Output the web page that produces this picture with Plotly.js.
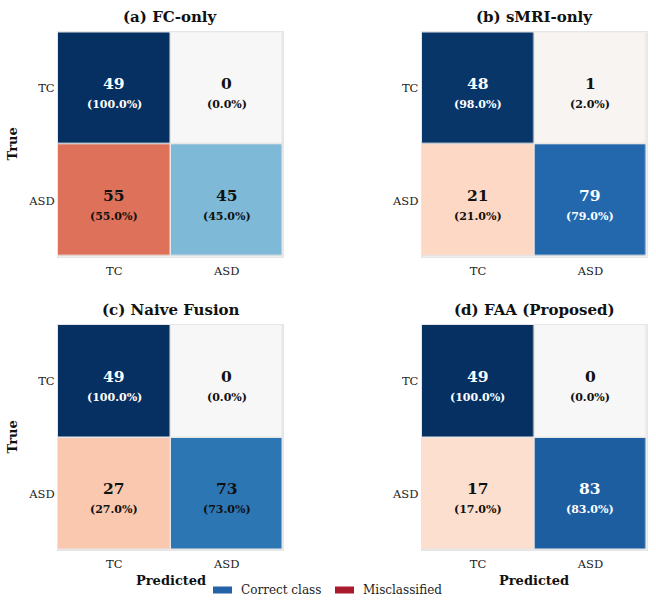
<!DOCTYPE html>
<html>
<head>
<meta charset="utf-8">
<script src="https://cdn.plot.ly/plotly-3.0.1.min.js"></script>
<style>
  html, body { margin: 0; padding: 0; background: #ffffff; }
  #chart { width: 656px; height: 602px; }
</style>
</head>
<body>
<div id="chart"></div>
<script>
// Class labels (rows = true class, columns = predicted class)
const classes = ['TC', 'ASD'];

// Panel titles
const panelTitles = ['(a) FC-only', '(b) sMRI-only', '(c) Naive Fusion', '(d) FAA (Proposed)'];

// Confusion-matrix counts for each model
const countsFC     = [[49, 0], [55, 45]];
const countsSMRI   = [[48, 1], [21, 79]];
const countsNaive  = [[49, 0], [27, 73]];
const countsFAA    = [[49, 0], [17, 83]];

// Legend entries
const legendLabels = ['Correct class', 'Misclassified'];
const legendColors = ['#2463a8', '#a81a2e'];

const allCounts = [countsFC, countsSMRI, countsNaive, countsFAA];

// Matplotlib-style RdBu diverging scale: correct cells map to blue, errors to red
const rdbu = [
  [0.0, '#67001f'], [0.1, '#b2182b'], [0.2, '#d6604d'], [0.3, '#f4a582'],
  [0.4, '#fddbc7'], [0.5, '#f7f7f7'], [0.6, '#d1e5f0'], [0.7, '#92c5de'],
  [0.8, '#4393c3'], [0.9, '#2166ac'], [1.0, '#053061']
];

// Panel placement in paper coordinates
const W = 656, H = 602;
const colX = [[58, 283], [421.7, 646.7]];
const rowY = [[32.3, 256.7], [325, 550]];
const px2x = p => p / W;
const px2y = p => 1 - p / H;

const traces = [];
const annotations = [];
const shapes = [];
const layout = {
  width: W, height: H,
  margin: { l: 0, r: 0, t: 0, b: 0 },
  paper_bgcolor: '#ffffff',
  plot_bgcolor: '#e6e6e6',
  font: { family: 'DejaVu Serif', color: '#222222' },
  showlegend: false
};

allCounts.forEach((counts, k) => {
  const r = Math.floor(k / 2), c = k % 2;
  const ax = k === 0 ? '' : String(k + 1);
  const xa = 'x' + ax, ya = 'y' + ax;

  // Row-normalised percentages and signed values for colouring
  const pct = counts.map(row => {
    const s = row.reduce((a, b) => a + b, 0);
    return row.map(v => 100 * v / s);
  });
  const signed = pct.map((row, i) => row.map((p, j) => (i === j ? p : -p)));

  traces.push({
    type: 'heatmap',
    x: classes, y: classes, z: signed,
    zmin: -100, zmax: 100,
    colorscale: rdbu, showscale: false,
    xgap: 1.5, ygap: 1.5,
    hoverinfo: 'skip',
    xaxis: xa, yaxis: ya
  });

  layout['xaxis' + ax] = {
    domain: [px2x(colX[c][0]), px2x(colX[c][1])],
    anchor: ya, type: 'category', range: [-0.5, 1.5],
    showgrid: false, zeroline: false,
    showline: true, mirror: true, linecolor: '#e6e6e6', linewidth: 1,
    ticks: '', ticklabelstandoff: 3,
    tickfont: { family: 'DejaVu Serif', size: 11.5, color: '#222222' },
    fixedrange: true
  };
  layout['yaxis' + ax] = {
    domain: [px2y(rowY[r][1]), px2y(rowY[r][0])],
    anchor: xa, type: 'category', range: [1.5, -0.5],
    showgrid: false, zeroline: false,
    showline: true, mirror: true, linecolor: '#e6e6e6', linewidth: 1,
    ticks: '', ticklabelstandoff: 0,
    tickfont: { family: 'DejaVu Serif', size: 11.5, color: '#222222' },
    fixedrange: true
  };

  // Cell labels: count on top, percentage underneath
  counts.forEach((row, i) => {
    row.forEach((v, j) => {
      const txtColor = Math.abs(signed[i][j]) > 75 ? '#ffffff' : '#111111';
      annotations.push({
        xref: xa, yref: ya, x: classes[j], y: classes[i],
        text: String(v), showarrow: false, yshift: 5,
        font: { family: 'DejaVu Serif', size: 15.5, color: txtColor, weight: 'bold' }
      });
      annotations.push({
        xref: xa, yref: ya, x: classes[j], y: classes[i],
        text: '(' + pct[i][j].toFixed(1) + '%)', showarrow: false, yshift: -16,
        font: { family: 'DejaVu Serif', size: 11, color: txtColor, weight: 'bold' }
      });
    });
  });

  // Panel title
  annotations.push({
    xref: 'paper', yref: 'paper',
    x: px2x((colX[c][0] + colX[c][1]) / 2), y: px2y(rowY[r][0] - 15),
    text: '<b>' + panelTitles[k] + '</b>', showarrow: false,
    xanchor: 'center', yanchor: 'middle',
    font: { family: 'DejaVu Serif', size: 15, color: '#111111' }
  });

  // Axis titles: "True" on the left column, "Predicted" on the bottom row
  if (c === 0) {
    annotations.push({
      xref: 'paper', yref: 'paper',
      x: px2x(12), y: px2y((rowY[r][0] + rowY[r][1]) / 2),
      text: '<b>True</b>', showarrow: false, textangle: -90,
      xanchor: 'center', yanchor: 'middle',
      font: { family: 'DejaVu Serif', size: 13, color: '#111111' }
    });
  }
  if (r === 1) {
    annotations.push({
      xref: 'paper', yref: 'paper',
      x: px2x((colX[c][0] + colX[c][1]) / 2), y: px2y(580),
      text: '<b>Predicted</b>', showarrow: false,
      xanchor: 'center', yanchor: 'middle',
      font: { family: 'DejaVu Serif', size: 13, color: '#111111' }
    });
  }
});

// Legend swatches and labels
const legendX = [213, 335];
legendLabels.forEach((lab, i) => {
  shapes.push({
    type: 'rect', xref: 'paper', yref: 'paper',
    x0: px2x(legendX[i]), x1: px2x(legendX[i] + 19),
    y0: px2y(593.5), y1: px2y(586.5),
    fillcolor: legendColors[i], line: { width: 0 }
  });
  annotations.push({
    xref: 'paper', yref: 'paper',
    x: px2x(legendX[i] + 26), y: px2y(590),
    text: lab, showarrow: false, xanchor: 'left', yanchor: 'middle',
    font: { family: 'DejaVu Serif', size: 12, color: '#222222' }
  });
});

layout.annotations = annotations;
layout.shapes = shapes;

Plotly.newPlot('chart', traces, layout, { displayModeBar: false, staticPlot: true });
</script>
</body>
</html>
